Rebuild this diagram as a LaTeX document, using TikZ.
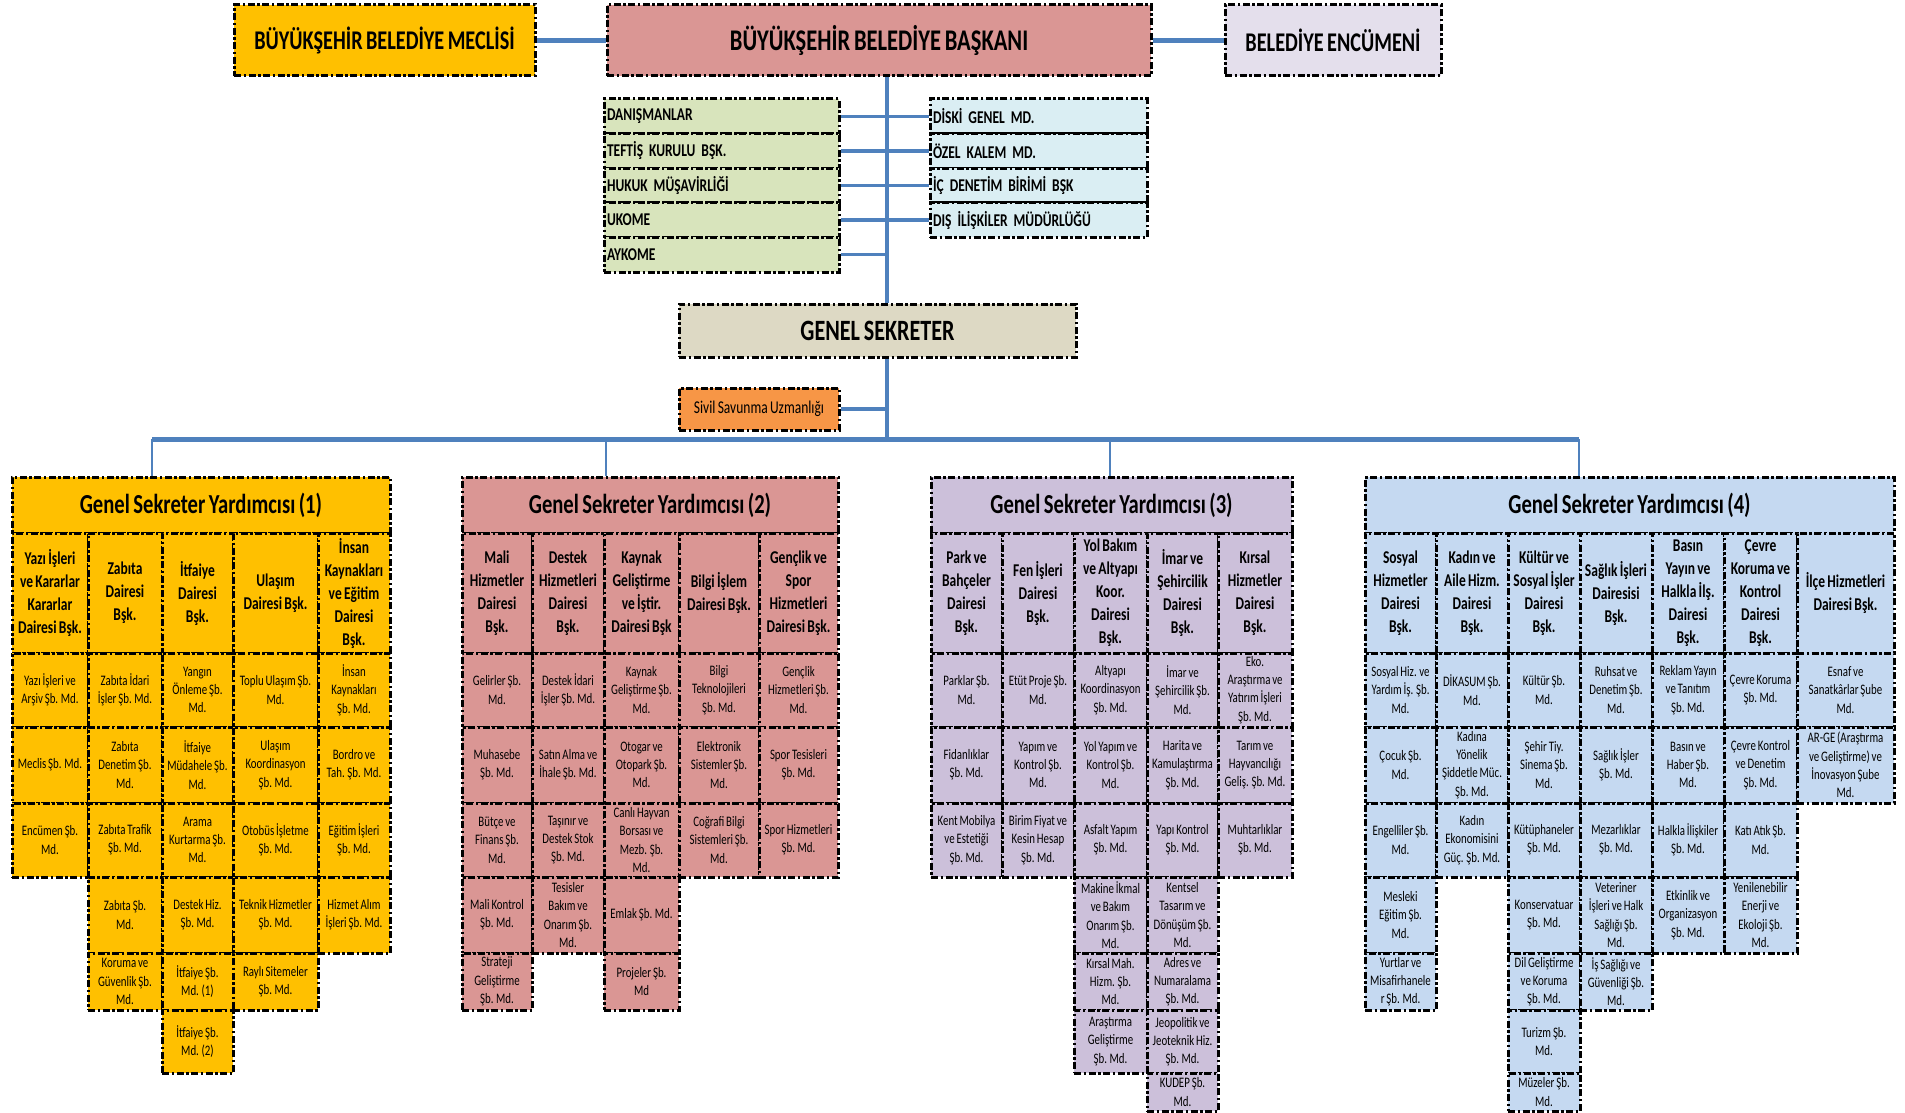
\documentclass[tikz,border=0pt]{standalone}
\usepackage{fontspec}
\setmainfont{Carlito}[FakeStretch=0.75, WordSpace=0.75]
\usetikzlibrary{calc}
\definecolor{gold}{RGB}{255,192,0}
\definecolor{rose}{RGB}{218,150,148}
\definecolor{lavender}{RGB}{228,223,236}
\definecolor{sage}{RGB}{216,228,188}
\definecolor{ice}{RGB}{218,238,243}
\definecolor{stone}{RGB}{221,217,196}
\definecolor{tangerine}{RGB}{247,150,70}
\definecolor{lilac}{RGB}{204,192,218}
\definecolor{sky}{RGB}{197,217,241}
\definecolor{linkblue}{RGB}{79,129,189}
\tikzstyle{dotframe}=[draw=black, line width=3pt, dash pattern=on 7pt off 2.5pt on 2.5pt off 2.5pt]
\tikzstyle{topbox}=[dotframe, minimum height=71pt, inner sep=2pt]
\tikzstyle{staffrow}=[dotframe, minimum height=34.6pt, inner xsep=3pt, inner ysep=0pt, align=left, font=\fontsize{18}{20}\selectfont\bfseries]
\tikzstyle{gsytitle}=[dotframe, minimum height=56pt, font=\fontsize{27.5}{31}\selectfont\bfseries]
\tikzstyle{headcell}=[dotframe, inner sep=1pt, align=center, font=\fontsize{18}{23}\selectfont\bfseries]
\tikzstyle{subcell}=[dotframe, inner sep=1pt, align=center, font=\fontsize{14.5}{18.3}\selectfont]
\tikzstyle{toplink}=[draw=linkblue, line width=4.5pt]
\tikzstyle{linkline}=[draw=linkblue, line width=3.5pt]
\tikzstyle{buslink}=[draw=linkblue, line width=5pt]
\tikzstyle{droplink}=[draw=linkblue, line width=2.2pt]
\def\rowy{{477,533,653,727,803,877,953,1010,1073,1111}} % shared row edges
\def\colsa{{12,88,162,233,318,390}}
\def\colsb{{462,532,604,679,759,838}}
\def\colsc{{931,1002,1074,1147,1218,1292}}
\def\colsd{{1365,1436,1508,1580,1652,1724,1797,1894}}
\newcommand{\unitcell}[6][subcell]{
  \pgfmathsetmacro{\xl}{#3[#4]}
  \pgfmathsetmacro{\xr}{#3[#4+1]}
  \pgfmathsetmacro{\yt}{\rowy[#5]}
  \pgfmathsetmacro{\yb}{\rowy[#5+1]}
  \pgfmathsetmacro{\cellw}{\xr-\xl}
  \pgfmathsetmacro{\cellh}{\yb-\yt}
  \node[#1, minimum width=\cellw pt, minimum height=\cellh pt] (#2) at ({(\xl+\xr)/2},{(\yt+\yb)/2}) {#6};
}

\begin{document}
\begin{tikzpicture}[x=1pt, y=-1pt]
\path[use as bounding box, fill=white] (0,0) rectangle (1905,1113);
% top row
\node[topbox, fill=gold, minimum width=301pt, font=\fontsize{27}{31}\selectfont\bfseries] (meclis) at (384.5,40.5) {BÜYÜKŞEHİR BELEDİYE MECLİSİ};
\node[topbox, fill=rose, minimum width=544pt, font=\fontsize{30}{34}\selectfont\bfseries] (baskan) at (879,40.5) {BÜYÜKŞEHİR BELEDİYE BAŞKANI};
\node[topbox, fill=lavender, minimum width=216pt, font=\fontsize{27}{31}\selectfont\bfseries] (encumen) at (1333,40.5) {BELEDİYE ENCÜMENİ};
% staff units
\foreach \nm/\txt [count=\i from 0] in {danisman/DANIŞMANLAR, teftis/TEFTİŞ KURULU BŞK., hukuk/HUKUK MÜŞAVİRLİĞİ, ukome/UKOME, aykome/AYKOME}
  \node[staffrow, fill=sage, text width=229pt] (\nm) at (721.5,116.3+34.6*\i) {\txt};
\foreach \nm/\txt [count=\i from 0] in {diski/DİSKİ GENEL MD., ozelkalem/ÖZEL KALEM MD., icdenetim/İÇ DENETİM BİRİMİ BŞK, disiliskiler/DIŞ İLİŞKİLER MÜDÜRLÜĞÜ}
  \node[staffrow, fill=ice, text width=211pt] (\nm) at (1038.5,116.3+34.6*\i) {\txt};
\node[dotframe, fill=stone, minimum width=397pt, minimum height=53pt, font=\fontsize{29.5}{33}\selectfont\bfseries] (gensek) at (877.5,330.5) {GENEL SEKRETER};
\node[dotframe, fill=tangerine, minimum width=160pt, minimum height=42pt, font=\fontsize{18}{21}\selectfont] (sivil) at (759,409) {Sivil Savunma Uzmanlığı};
% spine and bus
\coordinate (spine) at (887,0);
\coordinate (busmid) at (887,439);
\coordinate (bus1) at (152,439);
\coordinate (bus2) at (606,439);
\coordinate (bus3) at (1110,439);
\coordinate (bus4) at (1579,439);

% group 1
\begin{scope}[every node/.append style={fill=gold}]
\node[gsytitle, minimum width=378pt] (gsy1) at (201,505) {Genel Sekreter Yardımcısı (1)};
\unitcell[headcell]{g1h1}{\colsa}{0}{1}{Yazı İşleri\\ve Kararlar\\Kararlar\\Dairesi Bşk.}
\unitcell[headcell]{g1h2}{\colsa}{1}{1}{Zabıta\\Dairesi\\Bşk.}
\unitcell[headcell]{g1h3}{\colsa}{2}{1}{İtfaiye\\Dairesi\\Bşk.}
\unitcell[headcell]{g1h4}{\colsa}{3}{1}{Ulaşım\\Dairesi Bşk.}
\unitcell[headcell]{g1h5}{\colsa}{4}{1}{İnsan\\Kaynakları\\ve Eğitim\\Dairesi\\Bşk.}
\unitcell{g1a1}{\colsa}{0}{2}{Yazı İşleri ve\\Arşiv Şb. Md.}
\unitcell{g1a2}{\colsa}{0}{3}{Meclis Şb. Md.}
\unitcell{g1a3}{\colsa}{0}{4}{Encümen Şb.\\Md.}
\unitcell{g1b1}{\colsa}{1}{2}{Zabıta İdari\\İşler Şb. Md.}
\unitcell{g1b2}{\colsa}{1}{3}{Zabıta\\Denetim Şb.\\Md.}
\unitcell{g1b3}{\colsa}{1}{4}{Zabıta Trafik\\Şb. Md.}
\unitcell{g1b4}{\colsa}{1}{5}{Zabıta Şb.\\Md.}
\unitcell{g1b5}{\colsa}{1}{6}{Koruma ve\\Güvenlik Şb.\\Md.}
\unitcell{g1c1}{\colsa}{2}{2}{Yangın\\Önleme Şb.\\Md.}
\unitcell{g1c2}{\colsa}{2}{3}{İtfaiye\\Müdahele Şb.\\Md.}
\unitcell{g1c3}{\colsa}{2}{4}{Arama\\Kurtarma Şb.\\Md.}
\unitcell{g1c4}{\colsa}{2}{5}{Destek Hiz.\\Şb. Md.}
\unitcell{g1c5}{\colsa}{2}{6}{İtfaiye Şb.\\Md. (1)}
\unitcell{g1c6}{\colsa}{2}{7}{İtfaiye Şb.\\Md. (2)}
\unitcell{g1d1}{\colsa}{3}{2}{Toplu Ulaşım Şb.\\Md.}
\unitcell{g1d2}{\colsa}{3}{3}{Ulaşım\\Koordinasyon\\Şb. Md.}
\unitcell{g1d3}{\colsa}{3}{4}{Otobüs İşletme\\Şb. Md.}
\unitcell{g1d4}{\colsa}{3}{5}{Teknik Hizmetler\\Şb. Md.}
\unitcell{g1d5}{\colsa}{3}{6}{Raylı Sitemeler\\Şb. Md.}
\unitcell{g1e1}{\colsa}{4}{2}{İnsan\\Kaynakları\\Şb. Md.}
\unitcell{g1e2}{\colsa}{4}{3}{Bordro ve\\Tah. Şb. Md.}
\unitcell{g1e3}{\colsa}{4}{4}{Eğitim İşleri\\Şb. Md.}
\unitcell{g1e4}{\colsa}{4}{5}{Hizmet Alım\\İşleri Şb. Md.}
\end{scope}

% group 2
\begin{scope}[every node/.append style={fill=rose}]
\node[gsytitle, minimum width=376pt] (gsy2) at (650,505) {Genel Sekreter Yardımcısı (2)};
\unitcell[headcell]{g2h1}{\colsb}{0}{1}{Mali\\Hizmetler\\Dairesi\\Bşk.}
\unitcell[headcell]{g2h2}{\colsb}{1}{1}{Destek\\Hizmetleri\\Dairesi\\Bşk.}
\unitcell[headcell]{g2h3}{\colsb}{2}{1}{Kaynak\\Geliştirme\\ve İştir.\\Dairesi Bşk}
\unitcell[headcell]{g2h4}{\colsb}{3}{1}{Bilgi İşlem\\Dairesi Bşk.}
\unitcell[headcell]{g2h5}{\colsb}{4}{1}{Gençlik ve\\Spor\\Hizmetleri\\Dairesi Bşk.}
\unitcell{g2a1}{\colsb}{0}{2}{Gelirler Şb.\\Md.}
\unitcell{g2a2}{\colsb}{0}{3}{Muhasebe\\Şb. Md.}
\unitcell{g2a3}{\colsb}{0}{4}{Bütçe ve\\Finans Şb.\\Md.}
\unitcell{g2a4}{\colsb}{0}{5}{Mali Kontrol\\Şb. Md.}
\unitcell{g2a5}{\colsb}{0}{6}{Strateji\\Geliştirme\\Şb. Md.}
\unitcell{g2b1}{\colsb}{1}{2}{Destek İdari\\İşler Şb. Md.}
\unitcell{g2b2}{\colsb}{1}{3}{Satın Alma ve\\İhale Şb. Md.}
\unitcell{g2b3}{\colsb}{1}{4}{Taşınır ve\\Destek Stok\\Şb. Md.}
\unitcell{g2b4}{\colsb}{1}{5}{Tesisler\\Bakım ve\\Onarım Şb.\\Md.}
\unitcell{g2c1}{\colsb}{2}{2}{Kaynak\\Geliştirme Şb.\\Md.}
\unitcell{g2c2}{\colsb}{2}{3}{Otogar ve\\Otopark Şb.\\Md.}
\unitcell{g2c3}{\colsb}{2}{4}{Canlı Hayvan\\Borsası ve\\Mezb. Şb.\\Md.}
\unitcell{g2c4}{\colsb}{2}{5}{Emlak Şb. Md.}
\unitcell{g2c5}{\colsb}{2}{6}{Projeler Şb.\\Md}
\unitcell{g2d1}{\colsb}{3}{2}{Bilgi\\Teknolojileri\\Şb. Md.}
\unitcell{g2d2}{\colsb}{3}{3}{Elektronik\\Sistemler Şb.\\Md.}
\unitcell{g2d3}{\colsb}{3}{4}{Coğrafi Bilgi\\Sistemleri Şb.\\Md.}
\unitcell{g2e1}{\colsb}{4}{2}{Gençlik\\Hizmetleri Şb.\\Md.}
\unitcell{g2e2}{\colsb}{4}{3}{Spor Tesisleri\\Şb. Md.}
\unitcell{g2e3}{\colsb}{4}{4}{Spor Hizmetleri\\Şb. Md.}
\end{scope}

% group 3
\begin{scope}[every node/.append style={fill=lilac}]
\node[gsytitle, minimum width=361pt] (gsy3) at (1111.5,505) {Genel Sekreter Yardımcısı (3)};
\unitcell[headcell]{g3h1}{\colsc}{0}{1}{Park ve\\Bahçeler\\Dairesi\\Bşk.}
\unitcell[headcell]{g3h2}{\colsc}{1}{1}{Fen İşleri\\Dairesi\\Bşk.}
\unitcell[headcell]{g3h3}{\colsc}{2}{1}{Yol Bakım\\ve Altyapı\\Koor.\\Dairesi\\Bşk.}
\unitcell[headcell]{g3h4}{\colsc}{3}{1}{İmar ve\\Şehircilik\\Dairesi\\Bşk.}
\unitcell[headcell]{g3h5}{\colsc}{4}{1}{Kırsal\\Hizmetler\\Dairesi\\Bşk.}
\unitcell{g3a1}{\colsc}{0}{2}{Parklar Şb.\\Md.}
\unitcell{g3a2}{\colsc}{0}{3}{Fidanlıklar\\Şb. Md.}
\unitcell{g3a3}{\colsc}{0}{4}{Kent Mobilya\\ve Estetiği\\Şb. Md.}
\unitcell{g3b1}{\colsc}{1}{2}{Etüt Proje Şb.\\Md.}
\unitcell{g3b2}{\colsc}{1}{3}{Yapım ve\\Kontrol Şb.\\Md.}
\unitcell{g3b3}{\colsc}{1}{4}{Birim Fiyat ve\\Kesin Hesap\\Şb. Md.}
\unitcell{g3c1}{\colsc}{2}{2}{Altyapı\\Koordinasyon\\Şb. Md.}
\unitcell{g3c2}{\colsc}{2}{3}{Yol Yapım ve\\Kontrol Şb.\\Md.}
\unitcell{g3c3}{\colsc}{2}{4}{Asfalt Yapım\\Şb. Md.}
\unitcell{g3c4}{\colsc}{2}{5}{Makine İkmal\\ve Bakım\\Onarım Şb.\\Md.}
\unitcell{g3c5}{\colsc}{2}{6}{Kırsal Mah.\\Hizm. Şb.\\Md.}
\unitcell{g3c6}{\colsc}{2}{7}{Araştırma\\Geliştirme\\Şb. Md.}
\unitcell{g3d1}{\colsc}{3}{2}{İmar ve\\Şehircilik Şb.\\Md.}
\unitcell{g3d2}{\colsc}{3}{3}{Harita ve\\Kamulaştırma\\Şb. Md.}
\unitcell{g3d3}{\colsc}{3}{4}{Yapı Kontrol\\Şb. Md.}
\unitcell{g3d4}{\colsc}{3}{5}{Kentsel\\Tasarım ve\\Dönüşüm Şb.\\Md.}
\unitcell{g3d5}{\colsc}{3}{6}{Adres ve\\Numaralama\\Şb. Md.}
\unitcell{g3d6}{\colsc}{3}{7}{Jeopolitik ve\\Jeoteknik Hiz.\\Şb. Md.}
\unitcell{g3d7}{\colsc}{3}{8}{KUDEP Şb.\\Md.}
\unitcell{g3e1}{\colsc}{4}{2}{Eko.\\Araştırma ve\\Yatırım İşleri\\Şb. Md.}
\unitcell{g3e2}{\colsc}{4}{3}{Tarım ve\\Hayvancılığı\\Geliş. Şb. Md.}
\unitcell{g3e3}{\colsc}{4}{4}{Muhtarlıklar\\Şb. Md.}
\end{scope}

% group 4
\begin{scope}[every node/.append style={fill=sky}]
\node[gsytitle, minimum width=529pt] (gsy4) at (1629.5,505) {Genel Sekreter Yardımcısı (4)};
\unitcell[headcell]{g4h1}{\colsd}{0}{1}{Sosyal\\Hizmetler\\Dairesi\\Bşk.}
\unitcell[headcell]{g4h2}{\colsd}{1}{1}{Kadın ve\\Aile Hizm.\\Dairesi\\Bşk.}
\unitcell[headcell]{g4h3}{\colsd}{2}{1}{Kültür ve\\Sosyal İşler\\Dairesi\\Bşk.}
\unitcell[headcell]{g4h4}{\colsd}{3}{1}{Sağlık İşleri\\Dairesisi\\Bşk.}
\unitcell[headcell]{g4h5}{\colsd}{4}{1}{Basın\\Yayın ve\\Halkla İlş.\\Dairesi\\Bşk.}
\unitcell[headcell]{g4h6}{\colsd}{5}{1}{Çevre\\Koruma ve\\Kontrol\\Dairesi\\Bşk.}
\unitcell[headcell]{g4h7}{\colsd}{6}{1}{İlçe Hizmetleri\\Dairesi Bşk.}
\unitcell{g4a1}{\colsd}{0}{2}{Sosyal Hiz. ve\\Yardım İş. Şb.\\Md.}
\unitcell{g4a2}{\colsd}{0}{3}{Çocuk Şb.\\Md.}
\unitcell{g4a3}{\colsd}{0}{4}{Engelliler Şb.\\Md.}
\unitcell{g4a4}{\colsd}{0}{5}{Mesleki\\Eğitim Şb.\\Md.}
\unitcell{g4a5}{\colsd}{0}{6}{Yurtlar ve\\Misafirhanele\\r Şb. Md.}
\unitcell{g4b1}{\colsd}{1}{2}{DİKASUM Şb.\\Md.}
\unitcell{g4b2}{\colsd}{1}{3}{Kadına\\Yönelik\\Şiddetle Müc.\\Şb. Md.}
\unitcell{g4b3}{\colsd}{1}{4}{Kadın\\Ekonomisini\\Güç. Şb. Md.}
\unitcell{g4c1}{\colsd}{2}{2}{Kültür Şb.\\Md.}
\unitcell{g4c2}{\colsd}{2}{3}{Şehir Tiy.\\Sinema Şb.\\Md.}
\unitcell{g4c3}{\colsd}{2}{4}{Kütüphaneler\\Şb. Md.}
\unitcell{g4c4}{\colsd}{2}{5}{Konservatuar\\Şb. Md.}
\unitcell{g4c5}{\colsd}{2}{6}{Dil Geliştirme\\ve Koruma\\Şb. Md.}
\unitcell{g4c6}{\colsd}{2}{7}{Turizm Şb.\\Md.}
\unitcell{g4c7}{\colsd}{2}{8}{Müzeler Şb.\\Md.}
\unitcell{g4d1}{\colsd}{3}{2}{Ruhsat ve\\Denetim Şb.\\Md.}
\unitcell{g4d2}{\colsd}{3}{3}{Sağlık İşler\\Şb. Md.}
\unitcell{g4d3}{\colsd}{3}{4}{Mezarlıklar\\Şb. Md.}
\unitcell{g4d4}{\colsd}{3}{5}{Veteriner\\İşleri ve Halk\\Sağlığı Şb.\\Md.}
\unitcell{g4d5}{\colsd}{3}{6}{İş Sağlığı ve\\Güvenliği Şb.\\Md.}
\unitcell{g4e1}{\colsd}{4}{2}{Reklam Yayın\\ve Tanıtım\\Şb. Md.}
\unitcell{g4e2}{\colsd}{4}{3}{Basın ve\\Haber Şb.\\Md.}
\unitcell{g4e3}{\colsd}{4}{4}{Halkla İlişkiler\\Şb. Md.}
\unitcell{g4e4}{\colsd}{4}{5}{Etkinlik ve\\Organizasyon\\Şb. Md.}
\unitcell{g4f1}{\colsd}{5}{2}{Çevre Koruma\\Şb. Md.}
\unitcell{g4f2}{\colsd}{5}{3}{Çevre Kontrol\\ve Denetim\\Şb. Md.}
\unitcell{g4f3}{\colsd}{5}{4}{Katı Atık Şb.\\Md.}
\unitcell{g4f4}{\colsd}{5}{5}{Yenilenebilir\\Enerji ve\\Ekoloji Şb.\\Md.}
\unitcell{g4g1}{\colsd}{6}{2}{Esnaf ve\\Sanatkârlar Şube\\Md.}
\unitcell{g4g2}{\colsd}{6}{3}{AR-GE (Araştırma\\ve Geliştirme) ve\\İnovasyon Şube\\Md.}
\end{scope}

% connectors
\draw[toplink] (meclis) -- (baskan);
\draw[toplink] (baskan) -- (encumen);
\draw[linkline] (baskan.south -| spine) -- (gensek.north -| spine);
\foreach \a/\b in {danisman/diski, teftis/ozelkalem, hukuk/icdenetim, ukome/disiliskiler}
  \draw[linkline] (\a) -- (\b);
\draw[linkline] (aykome) -- (aykome -| spine);
\draw[linkline] (gensek.south -| spine) -- (busmid);
\draw[linkline] (sivil) -- (sivil -| spine);
\draw[buslink] (bus1) -- (bus4);
\foreach \k in {1,2,3,4}
  \draw[droplink] (bus\k) -- (bus\k |- gsy\k.north);
\end{tikzpicture}
\end{document}
